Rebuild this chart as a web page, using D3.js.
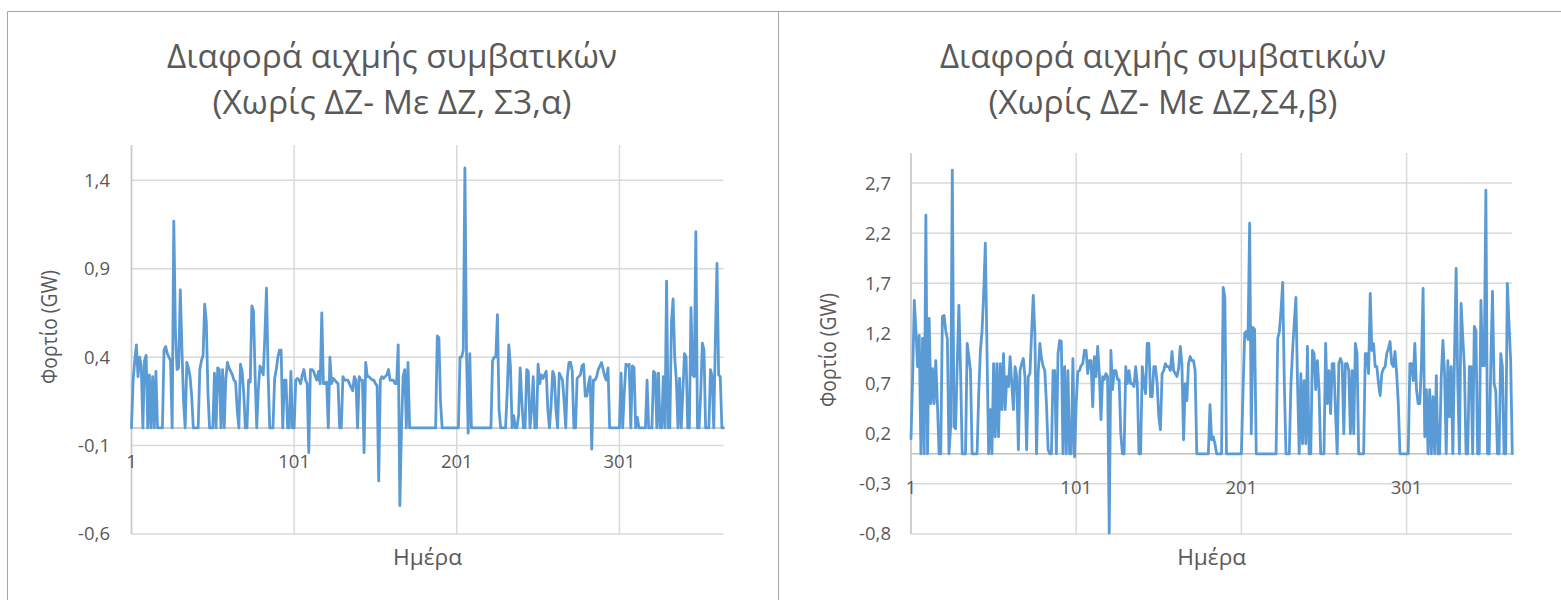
<!DOCTYPE html>
<html>
<head>
<meta charset="utf-8">
<script src="https://cdn.jsdelivr.net/npm/d3@7"></script>
<style>
  html, body { margin: 0; padding: 0; background: #fff; }
  svg { display: block; font-family: "Open Sans", "Noto Sans", "DejaVu Sans", sans-serif; }
</style>
</head>
<body>
<svg id="chart" width="1561" height="600"></svg>
<script>
// Day-axis tick labels (category axis, days 1..365)
const dayTicks = [1, 101, 201, 301];

// Daily peak difference of conventional units (GW), scenario Σ3,α
const seriesS3a = [
  0.0, 0.27, 0.38, 0.47, 0.29, 0.40, 0.35, 0.0, 0.38, 0.41,
  0.0, 0.30, 0.0, 0.29, 0.0, 0.32, 0.0, 0.0, 0.0, 0.0,
  0.44, 0.46, 0.42, 0.40, 0.38, 0.0, 1.17, 0.55, 0.33, 0.34,
  0.78, 0.45, 0.15, 0.0, 0.37, 0.34, 0.29, 0.18, 0.0, 0.0,
  0.0, 0.0, 0.33, 0.38, 0.41, 0.70, 0.60, 0.20, 0.0, 0.0,
  0.0, 0.31, 0.0, 0.34, 0.33, 0.0, 0.33, 0.0, 0.28, 0.37,
  0.34, 0.32, 0.30, 0.27, 0.26, 0.10, 0.0, 0.36, 0.32, 0.20,
  0.0, 0.0, 0.27, 0.26, 0.69, 0.66, 0.30, 0.0, 0.22, 0.35,
  0.33, 0.30, 0.52, 0.79, 0.30, 0.0, 0.0, 0.0, 0.28, 0.33,
  0.40, 0.44, 0.44, 0.0, 0.27, 0.27, 0.0, 0.0, 0.32, 0.0,
  0.0, 0.27, 0.28, 0.27, 0.25, 0.30, 0.33, 0.27, 0.25, -0.14,
  0.33, 0.33, 0.32, 0.29, 0.27, 0.32, 0.25, 0.65, 0.25, 0.25,
  0.26, 0.0, 0.40, 0.25, 0.28, 0.27, 0.26, 0.25, 0.0, 0.0,
  0.29, 0.27, 0.27, 0.27, 0.25, 0.23, 0.21, 0.29, 0.27, 0.0,
  0.29, 0.27, 0.27, -0.14, 0.37, 0.29, 0.29, 0.28, 0.27, 0.27,
  0.25, 0.24, -0.30, 0.27, 0.29, 0.28, 0.29, 0.30, 0.33, 0.27,
  0.27, 0.27, 0.25, 0.25, 0.47, -0.44, 0.0, 0.29, 0.33, 0.0,
  0.37, 0.0, 0.0, 0.0, 0.0, 0.0, 0.0, 0.0, 0.0, 0.0,
  0.0, 0.0, 0.0, 0.0, 0.0, 0.0, 0.0, 0.0, 0.52, 0.51,
  0.15, 0.0, 0.0, 0.0, 0.0, 0.0, 0.0, 0.0, 0.0, 0.0,
  0.0, 0.0, 0.40, 0.40, 0.44, 1.47, 0.41, -0.03, 0.42, 0.0,
  0.0, 0.0, 0.0, 0.0, 0.0, 0.0, 0.0, 0.0, 0.0, 0.0,
  0.0, 0.0, 0.38, 0.40, 0.40, 0.64, 0.10, 0.0, 0.0, 0.0,
  0.0, 0.20, 0.47, 0.35, 0.0, 0.07, 0.0, 0.0, 0.07, 0.34,
  0.15, 0.0, 0.0, 0.33, 0.32, 0.0, 0.10, 0.29, 0.0, 0.0,
  0.36, 0.25, 0.30, 0.28, 0.30, 0.32, 0.10, 0.0, 0.13, 0.32,
  0.29, 0.10, 0.0, 0.31, 0.29, 0.27, 0.15, 0.0, 0.29, 0.37,
  0.37, 0.32, 0.0, 0.0, 0.28, 0.29, 0.30, 0.35, 0.36, 0.18,
  0.18, 0.25, 0.29, -0.12, 0.27, 0.27, 0.29, 0.33, 0.35, 0.37,
  0.33, 0.29, 0.27, 0.34, 0.0, 0.0, 0.0, 0.0, 0.0, 0.0,
  0.0, 0.31, 0.0, 0.20, 0.36, 0.35, 0.36, 0.0, 0.35, 0.34,
  0.0, 0.06, 0.0, 0.0, 0.0, 0.0, 0.0, 0.27, 0.0, 0.0,
  0.0, 0.32, 0.31, 0.0, 0.31, 0.0, 0.0, 0.29, 0.0, 0.83,
  0.0, 0.0, 0.60, 0.73, 0.40, 0.27, 0.0, 0.28, 0.0, 0.20,
  0.42, 0.40, 0.0, 0.0, 0.68, 0.30, 0.29, 1.11, 0.0, 0.0,
  0.20, 0.48, 0.44, 0.0, 0.0, 0.0, 0.33, 0.29, 0.0, 0.50,
  0.93, 0.30, 0.29, 0.0, 0.0
];

// Daily peak difference of conventional units (GW), scenario Σ4,β
const seriesS4b = [
  0.15, 0.77, 1.53, 1.23, 0.87, 1.18, 0.0, 1.15, 0.0, 2.38,
  0.0, 1.35, 0.50, 0.85, 0.50, 0.93, 0.50, 0.0, 0.0, 1.37,
  1.38, 1.23, 1.15, 0.0, 0.27, 2.83, 0.27, 0.25, 0.90, 1.48,
  0.83, 0.0, 0.0, 0.0, 1.10, 0.97, 0.83, 0.0, 0.0, 0.0,
  0.0, 0.60, 1.03, 1.22, 1.60, 2.10, 1.03, 0.0, 0.44, 0.0,
  0.90, 0.17, 0.90, 0.17, 0.90, 0.44, 1.00, 0.44, 0.77, 0.67,
  0.97, 0.70, 0.44, 0.87, 0.77, 0.04, 0.83, 0.90, 0.95, 0.77,
  0.04, 0.77, 0.80, 1.20, 1.58, 1.20, 0.0, 0.80, 1.10, 0.95,
  0.87, 0.83, 0.50, 0.04, 0.0, 0.0, 0.83, 0.83, 0.0, 1.00,
  1.13, 1.12, 0.0, 0.87, 0.0, 0.83, 0.0, 0.0, 0.95, -0.03,
  0.50, 0.82, 0.83, 0.88, 0.90, 1.03, 1.03, 0.80, 0.93, 0.93,
  0.47, 0.97, 0.77, 1.07, 0.80, 0.34, 0.77, 0.74, 0.80, 0.77,
  -0.79, 1.03, 0.64, 0.83, 0.83, 0.74, 0.74, 0.20, 0.0, 0.0,
  0.87, 0.70, 0.83, 0.70, 0.70, 0.67, 0.87, 0.70, 0.0, 0.0,
  0.87, 0.70, 0.60, 1.10, 1.10, 0.57, 0.57, 0.87, 0.87, 0.70,
  0.37, 0.24, 0.80, 0.83, 0.90, 0.87, 0.87, 0.83, 1.02, 0.83,
  0.80, 0.77, 0.85, 1.07, 0.90, 0.14, 0.70, 0.53, 0.90, 0.97,
  0.93, 0.93, 0.83, 0.0, 0.0, 0.0, 0.0, 0.0, 0.0, 0.0,
  0.0, 0.49, 0.14, 0.17, 0.10, 0.0, 0.0, 0.0, 0.0, 1.66,
  1.56, 0.0, 0.0, 0.0, 0.0, 0.0, 0.0, 0.0, 0.0, 0.0,
  0.0, 0.63, 1.20, 1.22, 1.14, 2.30, 0.20, 1.26, 1.24, 0.0,
  0.0, 0.0, 0.0, 0.0, 0.0, 0.0, 0.0, 0.0, 0.0, 0.0,
  0.0, 0.0, 1.15, 1.22, 1.43, 1.71, 0.70, 0.0, 0.0, 0.0,
  0.70, 1.03, 1.30, 1.56, 0.70, 0.0, 0.80, 0.10, 0.73, 0.10,
  1.07, 0.0, 0.0, 1.03, 1.00, 0.64, 0.93, 0.64, 0.0, 0.0,
  0.0, 1.10, 0.50, 0.83, 0.40, 0.90, 0.90, 0.40, 0.0, 0.90,
  0.95, 0.90, 0.20, 0.90, 0.90, 0.83, 0.20, 0.83, 0.20, 1.10,
  1.00, 0.0, 0.0, 0.0, 0.0, 1.00, 1.00, 0.80, 1.60, 1.03,
  1.10, 0.87, 0.87, 0.70, 0.58, 0.80, 0.85, 0.87, 1.00, 1.05,
  1.12, 0.90, 0.87, 1.02, 0.80, 0.50, 0.0, 0.0, 0.0, 0.0,
  0.0, 0.0, 0.90, 0.90, 0.73, 1.10, 0.64, 0.50, 0.50, 0.90,
  1.65, 0.17, 0.64, 0.0, 0.64, 0.0, 0.57, 0.0, 0.78, 0.0,
  0.0, 0.77, 1.13, 0.80, 0.0, 0.93, 0.37, 0.87, 0.0, 0.97,
  1.85, 0.70, 0.0, 1.50, 1.17, 0.87, 0.0, 0.0, 0.87, 0.87,
  0.0, 1.27, 1.23, 0.0, 0.0, 1.53, 0.88, 0.88, 2.63, 0.0,
  0.0, 0.90, 1.62, 0.70, 0.63, 0.0, 0.0, 1.00, 0.87, 0.0,
  0.0, 1.70, 1.30, 0.93, 0.0
];

// Value-axis ticks
const yTicksS3a = [-0.6, -0.1, 0.4, 0.9, 1.4];
const yTicksS4b = [-0.8, -0.3, 0.2, 0.7, 1.2, 1.7, 2.2, 2.7];

// Texts
const titleLine1 = "Διαφορά αιχμής συμβατικών";
const titleLine2S3a = "(Χωρίς ΔΖ- Με ΔΖ, Σ3,α)";
const titleLine2S4b = "(Χωρίς ΔΖ- Με ΔΖ,Σ4,β)";
const yAxisTitle = "Φορτίο (GW)";
const xAxisTitle = "Ημέρα";

// Greek number formatting: decimal comma, ASCII hyphen for minus
const fmt = d3.formatLocale({
  decimal: ",", thousands: ".", grouping: [3], currency: ["", " €"], minus: "-"
}).format(".1f");

const svg = d3.select("#chart");
const TEXT = "#595959";
const GRID = "#d9d9d9";
const LINE = "#5b9bd5";

// Panel layout (pixels)
const panels = [
  {
    values: seriesS3a, yTicks: yTicksS3a, yDomain: [-0.6, 1.6], title2: titleLine2S3a,
    left: 131.5, right: 723.5, top: 145, bottom: 534,
    cx: 392, tickLabelX: 110, yTitleX: 50, yTitleY: 327,
    t1Len: 450, t2Len: 359
  },
  {
    values: seriesS4b, yTicks: yTicksS4b, yDomain: [-0.8, 3.0], title2: titleLine2S4b,
    left: 911, right: 1512.3, top: 153, bottom: 534,
    cx: 1163, tickLabelX: 891, yTitleX: 829, yTitleY: 350,
    t1Len: 446, t2Len: 349
  }
];

// Chart frames
const frame = svg.append("g").attr("fill", "none").attr("stroke", "#a6a6a6").attr("stroke-width", 1);
frame.append("line").attr("x1", 7.5).attr("x2", 1561).attr("y1", 11.5).attr("y2", 11.5);
frame.append("line").attr("x1", 7.5).attr("x2", 7.5).attr("y1", 11.5).attr("y2", 600);
frame.append("line").attr("x1", 778.5).attr("x2", 778.5).attr("y1", 11.5).attr("y2", 600);

panels.forEach(p => {
  const g = svg.append("g");
  const x = d3.scaleLinear().domain([1, 365]).range([p.left, p.right]);
  const y = d3.scaleLinear().domain(p.yDomain).range([p.bottom, p.top]);

  // horizontal gridlines
  g.append("g").selectAll("line").data(p.yTicks).join("line")
    .attr("x1", p.left).attr("x2", p.right)
    .attr("y1", d => y(d)).attr("y2", d => y(d))
    .attr("stroke", GRID).attr("stroke-width", 1.5);

  // vertical gridlines at day ticks
  g.append("g").selectAll("line").data(dayTicks).join("line")
    .attr("x1", d => x(d)).attr("x2", d => x(d))
    .attr("y1", p.top).attr("y2", p.bottom)
    .attr("stroke", GRID).attr("stroke-width", 1.5);

  // value axis line and category axis line (crossing at zero)
  g.append("line").attr("x1", x(1)).attr("x2", x(1)).attr("y1", p.top).attr("y2", p.bottom)
    .attr("stroke", "#c9c9c9").attr("stroke-width", 1.5);
  g.append("line").attr("x1", p.left).attr("x2", p.right).attr("y1", y(0)).attr("y2", y(0))
    .attr("stroke", "#bfbfbf").attr("stroke-width", 1.5);

  // y tick labels
  g.append("g").selectAll("text").data(p.yTicks).join("text")
    .attr("x", p.tickLabelX).attr("y", d => y(d))
    .attr("dy", "0.35em").attr("text-anchor", "end")
    .attr("font-size", 18.5).attr("fill", TEXT)
    .text(d => fmt(d));

  // day tick labels
  g.append("g").selectAll("text").data(dayTicks).join("text")
    .attr("x", d => x(d)).attr("y", y(0) + 40)
    .attr("text-anchor", "middle")
    .attr("font-size", 18.5).attr("fill", TEXT)
    .text(d => String(d));

  // series line
  const line = d3.line().x((d, i) => x(i + 1)).y(d => y(d));
  g.append("path").datum(p.values)
    .attr("d", line)
    .attr("fill", "none").attr("stroke", LINE)
    .attr("stroke-width", 2.8).attr("stroke-linejoin", "round").attr("stroke-linecap", "round");

  // titles
  g.append("text").attr("x", p.cx).attr("y", 68).attr("text-anchor", "middle")
    .attr("font-size", 33).attr("font-weight", 400).attr("fill", TEXT)
    .attr("textLength", p.t1Len).attr("lengthAdjust", "spacingAndGlyphs")
    .text(titleLine1);
  g.append("text").attr("x", p.cx).attr("y", 114).attr("text-anchor", "middle")
    .attr("font-size", 33).attr("font-weight", 400).attr("fill", TEXT)
    .attr("textLength", p.t2Len).attr("lengthAdjust", "spacingAndGlyphs")
    .text(p.title2);

  // axis titles
  g.append("text")
    .attr("transform", `translate(${p.yTitleX},${p.yTitleY}) rotate(-90)`)
    .attr("text-anchor", "middle").attr("dy", "0.35em")
    .attr("font-size", 21).attr("fill", TEXT)
    .attr("textLength", 114).attr("lengthAdjust", "spacingAndGlyphs")
    .text(yAxisTitle);
  g.append("text")
    .attr("x", (p.left + p.right) / 2).attr("y", 565)
    .attr("text-anchor", "middle")
    .attr("font-size", 21).attr("fill", TEXT)
    .attr("textLength", 69).attr("lengthAdjust", "spacingAndGlyphs")
    .text(xAxisTitle);
});
</script>
</body>
</html>
